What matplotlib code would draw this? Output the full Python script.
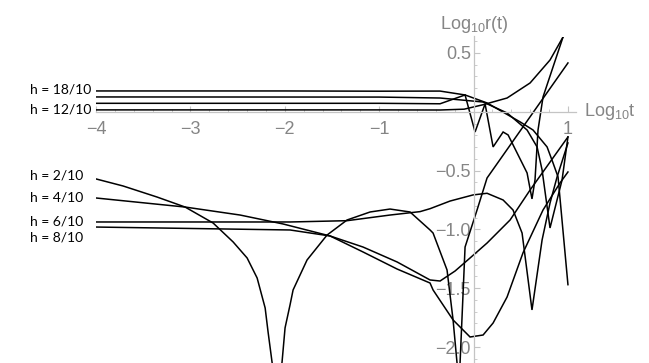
import matplotlib.pyplot as plt
from matplotlib.ticker import MultipleLocator
import numpy as np

plt.rcParams['font.family'] = ['Liberation Sans', 'DejaVu Sans']
plt.rcParams['mathtext.fontset'] = 'custom'
plt.rcParams['mathtext.rm'] = 'Liberation Sans'
plt.rcParams['mathtext.default'] = 'regular'

# log10 t / log10 r(t), one pair of lists per h
x_h2 = [-4.0, -3.713, -3.353, -3.056, -2.759, -2.547, -2.399, -2.293, -2.208, -2.177, -2.135,
        -2.08, -2.029, -1.997, -1.944, -1.912, -1.764, -1.552, -1.34, -1.096, -0.885, -0.673,
        -0.461, -0.429, -0.281, -0.217, -0.175, -0.159, -0.143, -0.09, 0.037, 0.143, 1.0]
y_h2 = [-0.571, -0.631, -0.725, -0.81, -0.946, -1.107, -1.243, -1.413, -1.668, -1.872, -2.128,
        -2.45, -2.128, -1.837, -1.641, -1.515, -1.26, -1.048, -0.92, -0.852, -0.827, -0.852,
        -1.005, -1.031, -1.345, -1.77, -2.136, -2.32, -2.136, -1.15, -0.835, -0.563, 0.415]

x_h4 = [-4.0, -3.056, -2.473, -2.018, -1.52, -1.171, -0.81, -0.461, -0.429, -0.217, -0.037, 0.101,
        0.207, 0.355, 0.524, 0.736, 0.916, 1.0]
y_h4 = [-0.733, -0.81, -0.878, -0.954, -1.056, -1.192, -1.337, -1.456, -1.515, -1.77, -1.915, -1.898,
        -1.796, -1.575, -1.199, -0.835, -0.605, -0.512]

x_h6 = [-4.0, -2.5, -1.944, -1.34, -0.885, -0.567, -0.461, -0.249, -0.005, 0.143, 0.313, 0.418,
        0.514, 0.619, 0.726, 0.81, 0.885, 1.0]
y_h6 = [-0.937, -0.937, -0.937, -0.926, -0.878, -0.849, -0.824, -0.759, -0.707, -0.693, -0.75,
        -0.835, -1.031, -1.685, -1.09, -0.776, -0.554, -0.265]

x_h8 = [-4.0, -1.944, -1.52, -1.171, -0.81, -0.461, -0.355, -0.196, -0.037, 0.143, 0.387,
        0.599, 1.0]
y_h8 = [-0.98, -1.005, -1.056, -1.15, -1.277, -1.43, -1.439, -1.354, -1.243, -1.116, -0.92,
        -0.665, -0.214]

x_h12 = [-4.0, -1.0, -0.355, -0.1, 0.101, 0.355, 0.599, 0.81, 0.948]
y_h12 = [0.016, 0.016, 0.015, 0.022, 0.06, 0.117, 0.245, 0.44, 0.636]

x_h14 = [-4.0, -1.0, -0.355, -0.09, 0.016, 0.122, 0.207, 0.313, 0.366, 0.567, 0.619, 0.651,
         0.683, 0.736, 0.842, 0.948]
y_h14 = [0.072, 0.072, 0.068, 0.143, -0.172, 0.067, -0.299, -0.172, -0.197, -0.52, -0.741, -0.58,
         -0.155, 0.126, 0.381, 0.636]

x_h16 = [-4.0, -1.0, -0.355, 0.101, 0.355, 0.567, 0.673, 0.726, 0.81, 0.9375, 1.0]
y_h16 = [0.126, 0.125, 0.117, 0.083, -0.01, -0.155, -0.299, -0.495, -0.988, -0.58, -0.214]

x_h18 = [-4.0, -2.0, -1.0, -0.355, -0.09, 0.143, 0.495, 0.63, 0.779, 0.842, 0.895, 1.0]
y_h18 = [0.177, 0.177, 0.175, 0.176, 0.143, 0.075, -0.087, -0.155, -0.299, -0.435, -0.554, -1.47]

curves = [(x_h2, y_h2), (x_h4, y_h4), (x_h6, y_h6), (x_h8, y_h8),
          (x_h12, y_h12), (x_h14, y_h14), (x_h16, y_h16), (x_h18, y_h18)]

# side labels and the height (pixel row) they sit at
side_labels = ['h = 18/10', 'h = 12/10', 'h = 2/10', 'h = 4/10', 'h = 6/10', 'h = 8/10']
side_rows = [90, 110, 175, 198, 221, 237]

x_ticks = [-4, -3, -2, -1, 1]
y_ticks = [0.5, -0.5, -1.0, -1.5, -2.0]

W, H = 649, 363
fig = plt.figure(figsize=(W / 100, H / 100), dpi=100)
ax = fig.add_axes([96 / W, 0, (575.5 - 96) / W, (H - 36.5) / H])

for xs, ys in curves:
    ax.plot(xs, ys, color='black', lw=1.1, solid_joinstyle='miter')

ax.set_xlim(-4, 1.08)
ax.set_ylim(-2.136, 0.64)

axis_grey = '#c4c4c4'
label_grey = '#858585'
for side in ['top', 'right']:
    ax.spines[side].set_visible(False)
ax.spines['left'].set_position(('data', 0))
ax.spines['bottom'].set_position(('data', 0))
for side in ['left', 'bottom']:
    ax.spines[side].set_color(axis_grey)
    ax.spines[side].set_linewidth(0.9)

ax.set_xticks(x_ticks)
ax.set_xticklabels([str(t).replace('-', '\u2212') for t in x_ticks])
ax.set_yticks(y_ticks)
ax.set_yticklabels([f'{t:.1f}'.replace('-', '\u2212') for t in y_ticks])
ax.xaxis.set_minor_locator(MultipleLocator(0.2))
ax.yaxis.set_minor_locator(MultipleLocator(0.1))
ax.tick_params(which='major', direction='in', length=4, width=0.8, color=axis_grey,
               labelcolor=label_grey, labelsize=13)
ax.tick_params(which='minor', direction='in', length=2.5, width=0.6, color=axis_grey)
ax.tick_params(axis='x', which='major', pad=7)
ax.tick_params(axis='y', which='major', pad=2)
ax.set_axisbelow(True)

ax.text(-0.36, 0.74, 'Log$_{10}$r(t)', color=label_grey, fontsize=13,
        ha='left', va='center', clip_on=False)
ax.text(1.17, 0.0, 'Log$_{10}$t', color=label_grey, fontsize=13,
        ha='left', va='center', clip_on=False)

for lab, row in zip(side_labels, side_rows):
    fig.text(30 / W, 1 - row / H, lab, ha='left', va='center', fontsize=10,
             family=['Lato', 'DejaVu Sans'], color='black')

fig.savefig('out.png', dpi=100)
